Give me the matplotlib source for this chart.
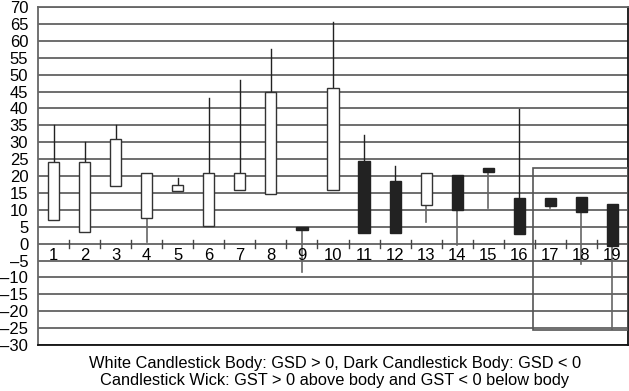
import matplotlib
matplotlib.use("Agg")
import matplotlib.pyplot as plt
from matplotlib.patches import Rectangle

plt.rcParams['font.family'] = ['Liberation Sans', 'DejaVu Sans']

categories = [str(i) for i in range(1, 20)]
open_ = [7, 3.5, 17, 7.7, 15.7, 5.3, 15.8, 14.7, 4.8, 16, 24.4, 18.4, 11.4, 20.4, 22.4, 13.5, 13.5, 13.8, 11.8]
close = [24, 24, 31, 21, 17.2, 21, 21, 45, 4.0, 46, 3, 3, 20.9, 9.9, 21.1, 2.9, 11, 9.3, -0.8]
high = [35, 30, 35, 21, 19.5, 43, 48.5, 57.5, 4.8, 65.5, 32, 23, 20.9, 20.4, 22.4, 39.8, 13.5, 13.8, 11.8]
low = [7, 3.5, 17, 0.5, 15.7, 5.3, 15.8, 14.7, -8.5, 16, 3, 3, 6.4, -0.5, 10.4, 2.9, 10.4, -5.9, -25.4]
yticks = list(range(-30, 75, 5))
caption = ["White Candlestick Body: GSD > 0, Dark Candlestick Body: GSD < 0",
           "Candlestick Wick: GST > 0 above body and GST < 0 below body"]
highlight_x = (16.43, 19.5)
highlight_y = (-25.6, 22.4)

fig = plt.figure(figsize=(6.29, 3.91), dpi=100)
ax = fig.add_axes([0.0604, 0.1176, 0.9380, 0.8645])
ax.set_xlim(0.5, 19.5)
ax.set_ylim(-30, 70)

for y in yticks:
    ax.axhline(y, color='#555555', lw=1.2, zorder=1)

w = 0.36
for i, (o, c, h, l) in enumerate(zip(open_, close, high, low)):
    x = i + 1
    top = max(o, c)
    bot = min(o, c)
    if h > top:
        ax.plot([x, x], [top, h], color='#222222', lw=1.0, zorder=2)
    if l < bot:
        ax.plot([x, x], [l, bot], color='#666666', lw=1.2, zorder=2)
    dark = c < o
    ax.add_patch(Rectangle((x - w / 2, bot), w, top - bot,
                           facecolor='#222222' if dark else 'white',
                           edgecolor='#222222' if dark else '#333333',
                           lw=1.0, zorder=3))

# separators at the zero line
for k in range(1, 19):
    ax.plot([k + 0.5, k + 0.5], [-1.2, 1.2], color='#444444', lw=1.0, zorder=2)
for i, lab in enumerate(categories):
    ax.text(i + 1, -1.4, lab, ha='center', va='top', fontsize=12, zorder=4)

ax.add_patch(Rectangle((highlight_x[0], highlight_y[0]), highlight_x[1] - highlight_x[0],
                       highlight_y[1] - highlight_y[0], fill=False,
                       edgecolor='#555555', lw=1.2, zorder=4))

ax.set_xticks([])
ax.set_yticks(yticks)
ax.set_yticklabels([str(t).replace('-', '\u2013') for t in yticks], fontsize=12)
ax.tick_params(axis='y', length=0, pad=7)
for s in ['left', 'top']:
    ax.spines[s].set_color('#666666')
    ax.spines[s].set_linewidth(1.3)
for s in ['right', 'bottom']:
    ax.spines[s].set_color('#111111')
    ax.spines[s].set_linewidth(1.3)

fig.text(0.532, 0.071, caption[0], ha='center', va='center', fontsize=11.8)
fig.text(0.532, 0.026, caption[1], ha='center', va='center', fontsize=11.8)

fig.savefig('out.png', dpi=100)
